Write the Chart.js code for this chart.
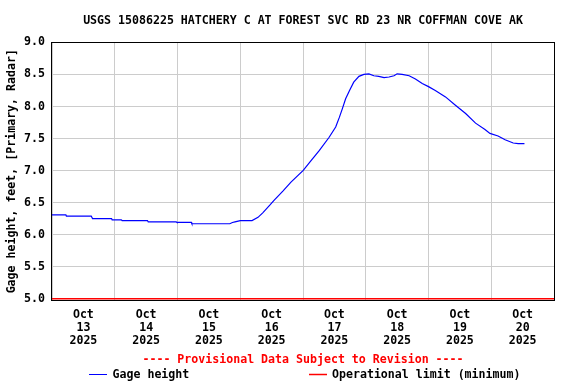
<!DOCTYPE html>
<html>
<head>
<meta charset="utf-8">
<script src="https://cdn.jsdelivr.net/npm/chart.js@4/dist/chart.umd.min.js"></script>
<style>
  html, body { margin: 0; padding: 0; background: #fff; }
  #wrap { width: 576px; height: 384px; }
</style>
</head>
<body>
<div id="wrap"><canvas id="gageChart"></canvas></div>
<script>
// hours since Oct 13 2025 00:00
var hours = [0, 5.3, 5.5, 15, 15.5, 22.8, 23, 26.5, 26.8, 36.5, 36.8, 47.5, 47.8, 53.3, 53.5, 68, 69, 70, 72,
    76.5, 78.8, 80.6, 83.3, 85, 88.3, 91.4, 96, 99, 102.2, 106, 108.5, 109.9, 111.1, 112.3, 113.8, 115.4,
    117.4, 119.3, 121.2, 123.1, 125, 127, 128.9, 130.8, 132, 133.9, 136.6, 139, 141.6, 144, 146.6, 150.5,
    154.3, 158.2, 162, 165.6, 167.5, 170.6, 173.3, 176.4, 178.3, 180.7];
var gageHeight = [6.31, 6.31, 6.29, 6.29, 6.25, 6.25, 6.23, 6.23, 6.22, 6.22, 6.20, 6.20, 6.19, 6.19, 6.17, 6.17, 6.19, 6.20, 6.22,
    6.22, 6.27, 6.34, 6.46, 6.54, 6.68, 6.82, 7.00, 7.15, 7.31, 7.52, 7.68, 7.83, 7.97, 8.12, 8.25, 8.38,
    8.47, 8.50, 8.51, 8.48, 8.47, 8.45, 8.46, 8.48, 8.51, 8.50, 8.48, 8.43, 8.36, 8.31, 8.25, 8.15,
    8.02, 7.89, 7.74, 7.64, 7.58, 7.54, 7.48, 7.43, 7.42, 7.42];
var limitHours = [0, 192];
var limitValue = [5.0, 5.0];

var dayLabels = ['13', '14', '15', '16', '17', '18', '19', '20'];
var monthLabel = 'Oct';
var yearLabel = '2025';
var yTicks = [5.0, 5.5, 6.0, 6.5, 7.0, 7.5, 8.0, 8.5, 9.0];

var FONT = { family: '"DejaVu Sans Mono", monospace', size: 11.6, weight: 'bold' };

function pairs(xs, ys) {
    return xs.map(function(x, i) { return { x: x, y: ys[i] }; });
}

// frame around the plot, plus the provisional note and legend under the axis
var extras = {
    id: 'extras',
    beforeDatasetsDraw: function(chart) {
        var a = chart.chartArea, ctx = chart.ctx;
        ctx.save();
        ctx.strokeStyle = '#000';
        ctx.lineWidth = 1;
        ctx.strokeRect(Math.round(a.left) - 0.5, Math.round(a.top) + 0.5,
            Math.round(a.right - a.left) + 1, Math.round(a.bottom - a.top));
        ctx.restore();
    },
    afterDraw: function(chart) {
        var a = chart.chartArea, ctx = chart.ctx;
        var cx = (a.left + a.right) / 2;
        ctx.save();
        ctx.font = 'bold 11.6px "DejaVu Sans Mono", monospace';
        ctx.textBaseline = 'middle';
        ctx.textAlign = 'center';
        ctx.fillStyle = '#ff0000';
        ctx.fillText('---- Provisional Data Subject to Revision ----', cx, 359.5);

        ctx.textAlign = 'left';
        var ly = 374.5;
        ctx.strokeStyle = '#0000ff';
        ctx.lineWidth = 1;
        ctx.beginPath(); ctx.moveTo(89, ly); ctx.lineTo(107, ly); ctx.stroke();
        ctx.fillStyle = '#000';
        ctx.fillText('Gage height', 112.5, ly);

        ctx.strokeStyle = '#ff0000';
        ctx.lineWidth = 1.5;
        ctx.beginPath(); ctx.moveTo(309, ly); ctx.lineTo(327, ly); ctx.stroke();
        ctx.fillText('Operational limit (minimum)', 332, ly);
        ctx.restore();
    }
};

new Chart(document.getElementById('gageChart'), {
    type: 'line',
    data: {
        datasets: [{
            label: 'Gage height',
            data: pairs(hours, gageHeight),
            borderColor: '#0000ff',
            borderWidth: 1.2,
            pointRadius: 0,
            tension: 0,
            fill: false
        }, {
            label: 'Operational limit (minimum)',
            data: pairs(limitHours, limitValue),
            borderColor: '#ff0000',
            borderWidth: 1.5,
            pointRadius: 0,
            fill: false
        }]
    },
    options: {
        responsive: true,
        maintainAspectRatio: false,
        animation: false,
        layout: { padding: { left: 0, right: 22, top: 0, bottom: 0 } },
        plugins: {
            legend: { display: false },
            tooltip: { enabled: false },
            title: {
                display: true,
                fullSize: false,
                text: 'USGS 15086225 HATCHERY C AT FOREST SVC RD 23 NR COFFMAN COVE AK',
                color: '#000',
                font: FONT,
                padding: { top: 14, bottom: 14.5 }
            }
        },
        scales: {
            x: {
                type: 'linear',
                min: 0,
                max: 192,
                afterBuildTicks: function(scale) {
                    var t = [];
                    for (var h = 0; h <= 192; h += 12) t.push({ value: h });
                    scale.ticks = t;
                },
                afterFit: function(scale) { scale.height = 84; },
                border: { display: false },
                grid: {
                    drawTicks: false,
                    color: function(c) {
                        return c.tick && c.tick.value % 24 === 0 ? '#cccccc' : 'rgba(0,0,0,0)';
                    }
                },
                ticks: {
                    autoSkip: false,
                    maxRotation: 0,
                    padding: 8,
                    color: '#000',
                    font: Object.assign({ lineHeight: 1.15 }, FONT),
                    callback: function(v) {
                        if (v % 24 !== 12) return '';
                        return [monthLabel, dayLabels[Math.floor(v / 24)], yearLabel];
                    }
                }
            },
            y: {
                min: 4.98,
                max: 9.0,
                afterBuildTicks: function(scale) {
                    scale.ticks = yTicks.map(function(v) { return { value: v }; });
                },
                afterFit: function(scale) { scale.width = 52; },
                border: { display: false },
                grid: { drawTicks: false, color: '#cccccc' },
                ticks: {
                    padding: 7,
                    color: '#000',
                    font: FONT,
                    callback: function(v) { return v.toFixed(1); }
                },
                title: {
                    display: true,
                    text: 'Gage height, feet, [Primary, Radar]',
                    color: '#000',
                    font: FONT,
                    padding: { top: 5, bottom: 0 }
                }
            }
        }
    },
    plugins: [extras]
});
</script>
</body>
</html>
